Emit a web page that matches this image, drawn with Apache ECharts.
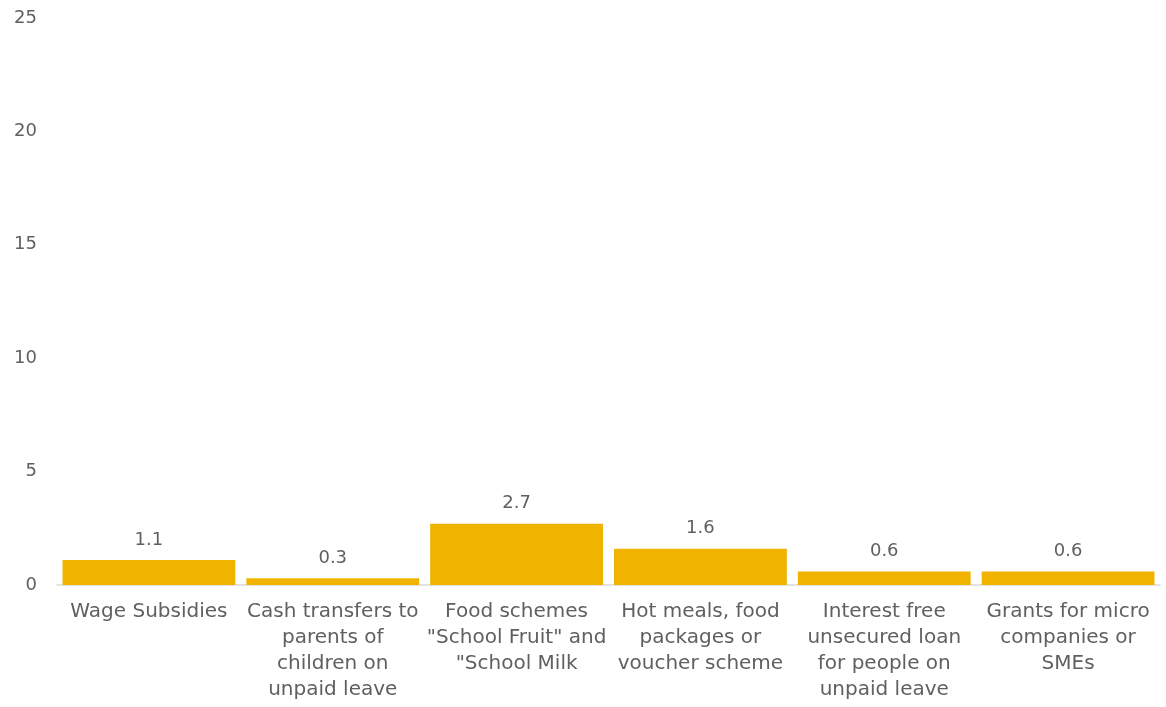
<!DOCTYPE html>
<html>
<head>
<meta charset="utf-8">
<script src="https://cdn.jsdelivr.net/npm/echarts@6/dist/echarts.min.js"></script>
<style>
  html, body { margin: 0; padding: 0; background: #fff; }
  #chart { width: 1166px; height: 707px; }
</style>
</head>
<body>
<div id="chart"></div>
<script>
  const categories = [
    'Wage Subsidies',
    'Cash transfers to\nparents of\nchildren on\nunpaid leave',
    'Food schemes\n"School Fruit" and\n"School Milk',
    'Hot meals, food\npackages or\nvoucher scheme',
    'Interest free\nunsecured loan\nfor people on\nunpaid leave',
    'Grants for micro\ncompanies or\nSMEs'
  ];
  const values = [1.1, 0.3, 2.7, 1.6, 0.6, 0.6];

  const font = '"DejaVu Sans", sans-serif';
  const textColor = '#606060';

  const chart = echarts.init(document.getElementById('chart'));
  chart.setOption({
    animation: false,
    grid: { left: 57, right: 6, top: 18, bottom: 122 },
    xAxis: {
      type: 'category',
      data: categories,
      axisLine: { lineStyle: { color: '#d9d9d9', width: 1.5 } },
      axisTick: { show: false },
      axisLabel: {
        interval: 0,
        color: textColor,
        fontFamily: font,
        fontSize: 20,
        lineHeight: 26,
        margin: 14
      }
    },
    yAxis: {
      type: 'value',
      min: 0,
      max: 25,
      interval: 5,
      splitLine: { show: false },
      axisLine: { show: false },
      axisTick: { show: false },
      axisLabel: {
        color: textColor,
        fontFamily: font,
        fontSize: 18,
        margin: 20
      }
    },
    series: [{
      type: 'bar',
      data: values,
      barCategoryGap: '6%',
      itemStyle: { color: '#F0B400' },
      label: {
        show: true,
        position: 'top',
        distance: 11,
        color: textColor,
        fontFamily: font,
        fontSize: 18
      }
    }]
  });
</script>
</body>
</html>
